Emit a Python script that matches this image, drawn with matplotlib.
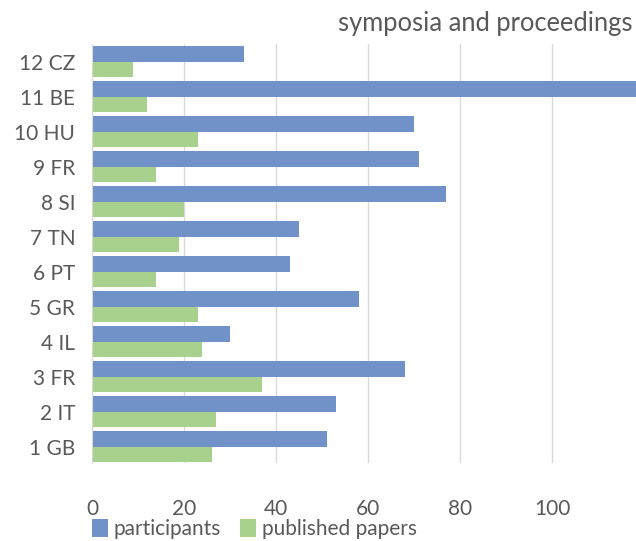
import matplotlib.pyplot as plt
import numpy as np

categories = ["1 GB", "2 IT", "3 FR", "4 IL", "5 GR", "6 PT",
              "7 TN", "8 SI", "9 FR", "10 HU", "11 BE", "12 CZ"]
participants = [51, 53, 68, 30, 58, 43, 45, 77, 71, 70, 130, 33]
published_papers = [26, 27, 37, 24, 23, 14, 19, 20, 14, 23, 12, 9]

BLUE = "#7092C8"
GREEN = "#A9D18E"
TEXT = "#595959"
GRID = "#D9D9D9"

plt.rcParams["font.family"] = ["Lato", "DejaVu Sans"]

fig = plt.figure(figsize=(6.36, 5.41), dpi=100)
ax = fig.add_axes([92 / 636, 1 - 463 / 541, 1 - 92 / 636, (463 - 44) / 541])

y = np.arange(len(categories))
h = 0.44
ax.barh(y + h / 2, participants, height=h, color=BLUE, label="participants", zorder=2)
ax.barh(y - h / 2, published_papers, height=h, color=GREEN, label="published papers", zorder=2)

ax.set_xlim(0, (636 - 92) / 4.6)
ax.set_ylim(-0.47, len(categories) - 0.5)
ax.set_xticks([0, 20, 40, 60, 80, 100])
ax.set_yticks(y)
ax.set_yticklabels(categories)

ax.grid(axis="x", color=GRID, linewidth=1, zorder=0)
for side in ["top", "right", "bottom"]:
    ax.spines[side].set_visible(False)
ax.spines["left"].set_color(GRID)
ax.tick_params(axis="both", length=0, labelsize=15, colors=TEXT)
ax.tick_params(axis="y", pad=12)
ax.tick_params(axis="x", pad=26)

fig.text(632 / 636, 1 - 23 / 541, "symposia and proceedings", ha="right", va="center",
         fontsize=18.4, color=TEXT)

handles, labels = ax.get_legend_handles_labels()
fig.legend(handles, labels, loc="center left", bbox_to_anchor=(92 / 636, 1 - 529 / 541),
           ncol=2, frameon=False, fontsize=15, labelcolor=TEXT,
           handlelength=0.75, handleheight=1.0, handletextpad=0.3, columnspacing=0.9,
           borderpad=0, borderaxespad=0)

fig.savefig("out.png", dpi=100)
